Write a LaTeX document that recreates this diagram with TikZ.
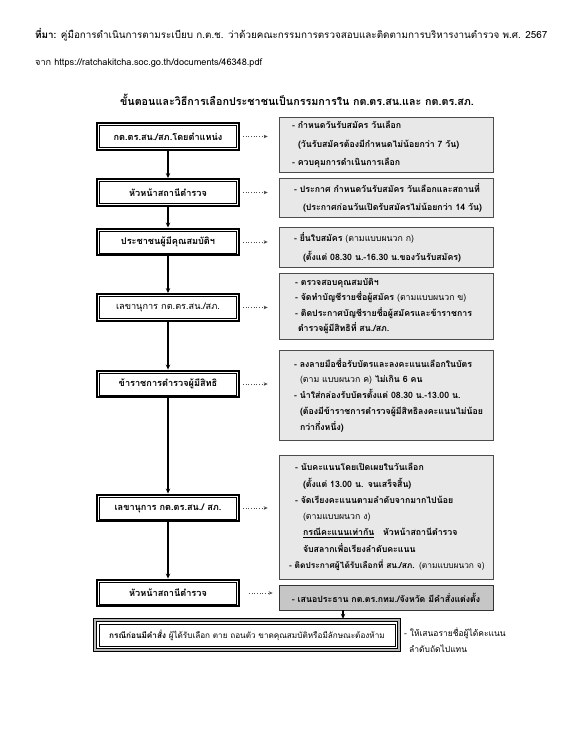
\documentclass[tikz,border=0pt]{standalone}
\usepackage{fontspec}
\setmainfont{Loma}[Script=Thai]
\newfontfamily\thai[Script=Thai]{Loma}
\usetikzlibrary{arrows.meta}
\pgfdeclarelayer{back}
\pgfdeclarelayer{bg}
\pgfsetlayers{back,bg,main}
\tikzset{
  lbox/.style={draw, line width=2.4bp, minimum width=141.5bp, minimum height=26.5bp, inner sep=0pt,
    font=\thai\bfseries\fontsize{9.2}{10}\selectfont},
  rbox/.style={draw=gray!60!black, fill=gray!18, line width=0.7bp, text width=210bp, inner xsep=2bp,
    inner ysep=0pt, align=left, font=\thai\bfseries\fontsize{8.8}{16}\selectfont},
  arr/.style={line width=1.6bp, -{Stealth[length=5bp,width=4.5bp]}},
  darr/.style={dotted, line width=0.7bp, gray!60!black, -{Stealth[length=4bp,width=3.5bp]}},
}
\newcommand{\hs}[1]{\hspace*{#1bp}}
\begin{document}
\begin{tikzpicture}[x=1bp,y=-1bp]
\useasboundingbox (0,0) rectangle (577,747);
\begin{pgfonlayer}{back}
\fill[white] (0,0) rectangle (577,747);
\end{pgfonlayer}
% header
\node[anchor=west, inner sep=0pt, font=\thai\fontsize{9.9}{11}\selectfont] (h1) at (35,35)
  {\textbf{ที่มา:} คู่มือการดำเนินการตามระเบียบ ก.ต.ช. ว่าด้วยคณะกรรมการตรวจสอบและติดตามการบริหารงานตำรวจ พ.ศ. 2567};
\node[anchor=west, inner sep=0pt, font=\thai\fontsize{9.2}{11}\selectfont] (h2) at (35,63)
  {จาก https://ratchakitcha.soc.go.th/documents/46348.pdf};
\node[inner sep=0pt, font=\thai\bfseries\fontsize{10.8}{12}\selectfont] (t) at (297,100)
  {ขั้นตอนและวิธีการเลือกประชาชนเป็นกรรมการใน กต.ตร.สน.และ กต.ตร.สภ.};
% left boxes
\node[lbox] (l1) at (168,136.5) {กต.ตร.สน./สภ.โดยตำแหน่ง};
\node[lbox] (l2) at (168,192.5) {หัวหน้าสถานีตำรวจ};
\node[lbox] (l3) at (168,242) {ประชาชนผู้มีคุณสมบัติฯ};
\node[lbox] (l4) at (168,307.5) {\mdseries เลขานุการ กต.ตร.สน./สภ.};
\node[lbox] (l5) at (168,384) {ข้าราชการตำรวจผู้มีสิทธิ};
\node[lbox] (l6) at (168,508) {เลขานุการ กต.ตร.สน./ สภ.};
\node[lbox] (l7) at (168,593) {หัวหน้าสถานีตำรวจ};
\foreach \n in {l1,l2,l3,l4,l5,l6,l7}
  \draw[line width=0.7bp] ([shift={(3.4,3.4)}]\n.north west) rectangle ([shift={(-3.4,-3.4)}]\n.south east);
% right boxes (text starts at x=281)
\node[rbox, minimum height=55bp, font=\thai\bfseries\fontsize{8.8}{18.5}\selectfont] (r1) at (386,144.5)
  {\hs{11}- กำหนดวันรับสมัคร วันเลือก\\\hs{17}(วันรับสมัครต้องมีกำหนดไม่น้อยกว่า 7 วัน)\\\hs{11}- ควบคุมการดำเนินการเลือก};
\node[rbox, minimum height=39bp, font=\thai\bfseries\fontsize{8.8}{18}\selectfont] (r2) at (386,197.5)
  {\hs{13}- ประกาศ กำหนดวันรับสมัคร วันเลือกและสถานที่\\\hs{22}(ประกาศก่อนวันเปิดรับสมัครไม่น้อยกว่า 14 วัน)};
\node[rbox, minimum height=40bp, font=\thai\bfseries\fontsize{8.8}{19}\selectfont] (r3) at (386,247)
  {\hs{13}- ยื่นใบสมัคร {\mdseries(ตามแบบผนวก ก)}\\\hs{22}(ตั้งแต่ 08.30 น.-16.30 น.ของวันรับสมัคร)};
\node[rbox, minimum height=66bp, font=\thai\bfseries\fontsize{8.8}{15.3}\selectfont] (r4) at (386,306)
  {\hs{14}- ตรวจสอบคุณสมบัติฯ\\\hs{14}- จัดทำบัญชีรายชื่อผู้สมัคร {\mdseries(ตามแบบผนวก ข)}\\\hs{14}- ติดประกาศบัญชีรายชื่อผู้สมัครและข้าราชการ\\\hs{17}ตำรวจผู้มีสิทธิที่ สน./สภ.};
\node[rbox, minimum height=90bp, font=\thai\bfseries\fontsize{8.8}{15.8}\selectfont] (r5) at (386,395)
  {\hs{13}- ลงลายมือชื่อรับบัตรและลงคะแนนเลือกในบัตร\\\hs{19}{\mdseries(ตาม แบบผนวก ค)} ไม่เกิน 6 คน\\\hs{13}- นำใส่กล่องรับบัตรตั้งแต่ 08.30 น.-13.00 น.\\\hs{19}(ต้องมีข้าราชการตำรวจผู้มีสิทธิลงคะแนนไม่น้อย\\\hs{19}กว่ากึ่งหนึ่ง)};
\node[rbox, minimum height=124bp, font=\thai\bfseries\fontsize{8.8}{16.3}\selectfont] (r6) at (386,517)
  {\hs{14}- นับคะแนนโดยเปิดเผยในวันเลือก\\\hs{22}(ตั้งแต่ 13.00 น. จนเสร็จสิ้น)\\\hs{14}- จัดเรียงคะแนนตามลำดับจากมากไปน้อย\\\hs{22}{\mdseries(ตามแบบผนวก ง)}\\\hs{22}\underline{กรณีคะแนนเท่ากัน}\quad หัวหน้าสถานีตำรวจ\\\hs{22}จับสลากเพื่อเรียงลำดับคะแนน\\\hs{8}\mbox{\fontsize{8.4}{16.3}\selectfont - ติดประกาศผู้ได้รับเลือกที่ สน./สภ. {\mdseries(ตามแบบผนวก จ)}}};
\node[rbox, fill=gray!45, draw=gray!40!black, minimum height=25bp, align=center] (r7) at (386,597.5)
  {- เสนอประธาน กต.ตร.กทม./จังหวัด มีคำสั่งแต่งตั้ง};
% bottom box
\node[minimum width=306bp, minimum height=32bp, inner sep=0pt, font=\thai\fontsize{8.2}{10}\selectfont] (b1) at (247,635)
  {\textbf{กรณีก่อนมีคำสั่ง} ผู้ได้รับเลือก ตาย ถอนตัว ขาดคุณสมบัติหรือมีลักษณะต้องห้าม};
\begin{pgfonlayer}{bg}
  \draw[line width=0.7bp, fill=gray!55] (b1.north west) rectangle (b1.south east);
  \draw[line width=1.5bp, fill=white] ([shift={(2.6,2.6)}]b1.north west) rectangle ([shift={(-2.6,-2.6)}]b1.south east);
  \draw[line width=0.6bp] ([shift={(5.2,5.2)}]b1.north west) rectangle ([shift={(-5.2,-5.2)}]b1.south east);
\end{pgfonlayer}
\node[anchor=west, align=left, inner sep=0pt, font=\thai\fontsize{8.5}{16}\selectfont] (bt) at (404,640)
  {- ให้เสนอรายชื่อผู้ได้คะแนน\\\hspace*{5bp}ลำดับถัดไปแทน};
% connectors
\foreach \a/\b in {l1/l2,l2/l3,l3/l4,l4/l5,l5/l6,l6/l7}
  \draw[arr] (\a) -- (\b);
\foreach \a/\b in {l1/r1,l2/r2,l3/r3,l4/r4,l5/r5,l6/r6}
  \draw[darr] ([xshift=3bp]\a.east) -- ([xshift=-11bp]\a.east -| \b.west);
\draw[darr] ([xshift=9bp]l7.east) -- ([xshift=-6bp]l7.east -| r7.west);
\draw[arr] ([xshift=-43bp]r7.south) -- ([xshift=-43bp]r7.south |- b1.north);
\end{tikzpicture}
\end{document}
